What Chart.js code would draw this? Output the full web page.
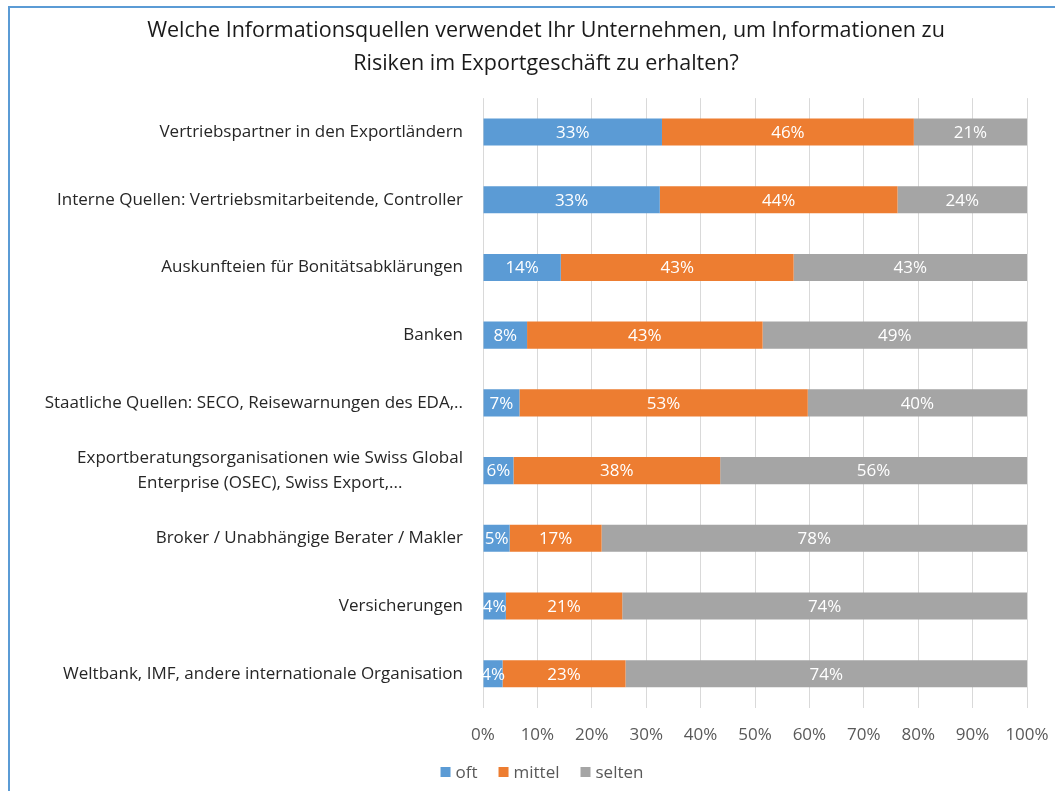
<!DOCTYPE html>
<html>
<head>
<meta charset="utf-8">
<script src="https://cdn.jsdelivr.net/npm/chart.js@4/dist/chart.umd.min.js"></script>
<style>
  html, body { margin: 0; padding: 0; background: #fff; overflow: hidden; width: 1055px; height: 791px; }
  #frame { position: absolute; left: 8px; top: 6px; width: 2000px; height: 2000px; border-left: 2px solid #5b9bd5; border-top: 2px solid #5b9bd5; }
  #wrap { position: absolute; left: 10px; top: 8px; width: 1074px; height: 785px; }
</style>
</head>
<body>
<div id="frame"></div>
<div id="wrap"><canvas id="c"></canvas></div>
<script>
const titleLines = ['Welche Informationsquellen verwendet Ihr Unternehmen, um Informationen zu', 'Risiken im Exportgeschäft zu erhalten?'];
const categories = [
  'Vertriebspartner in den Exportländern',
  'Interne Quellen: Vertriebsmitarbeitende, Controller',
  'Auskunfteien für Bonitätsabklärungen',
  'Banken',
  'Staatliche Quellen: SECO, Reisewarnungen des EDA,..',
  ['Exportberatungsorganisationen wie Swiss Global', 'Enterprise (OSEC), Swiss Export,...'],
  'Broker / Unabhängige Berater / Makler',
  'Versicherungen',
  'Weltbank, IMF, andere internationale Organisation'
];
const seriesNames = ['oft', 'mittel', 'selten'];
const oft =    [32.9, 32.5, 14.3,  8.1,  6.7,  5.6,  4.9,  4.2,  3.6];
const mittel = [46.3, 43.7, 42.8, 43.3, 53.0, 38.0, 16.9, 21.4, 22.6];
const selten = [20.8, 23.8, 42.9, 48.6, 40.3, 56.4, 78.2, 74.4, 73.8];
const xTickLabels = ['0%', '10%', '20%', '30%', '40%', '50%', '60%', '70%', '80%', '90%', '100%'];

const FONT = '"Open Sans", Lato, sans-serif';
const colors = ['#5b9bd5', '#ed7d31', '#a5a5a5'];

const valueLabels = {
  id: 'valueLabels',
  afterDatasetsDraw(chart) {
    const ctx = chart.ctx, area = chart.chartArea;
    ctx.save();
    ctx.beginPath();
    ctx.rect(area.left, area.top, area.right - area.left, area.bottom - area.top);
    ctx.clip();
    ctx.font = '17px ' + FONT;
    ctx.fillStyle = '#ffffff';
    ctx.textAlign = 'center';
    ctx.textBaseline = 'middle';
    chart.data.datasets.forEach((ds, di) => {
      const meta = chart.getDatasetMeta(di);
      meta.data.forEach((el, i) => {
        const v = ds.data[i];
        const cx = (el.x + el.base) / 2;
        ctx.fillText(Math.round(v) + '%', cx, el.y + 1);
      });
    });
    ctx.restore();
  }
};

const catLabels = {
  id: 'catLabels',
  afterDraw(chart) {
    const ctx = chart.ctx;
    const y = chart.scales.y;
    const right = chart.chartArea.left - 20;
    ctx.save();
    ctx.font = '17px ' + FONT;
    ctx.fillStyle = '#262626';
    ctx.textBaseline = 'middle';
    ctx.textAlign = 'center';
    const lh = 25;
    categories.forEach((lab, i) => {
      const lines = Array.isArray(lab) ? lab : [lab];
      const yc = y.getPixelForTick(i);
      const maxW = Math.max(...lines.map(l => ctx.measureText(l).width));
      const cx = right - maxW / 2;
      lines.forEach((l, k) => {
        ctx.fillText(l, cx, yc + (k - (lines.length - 1) / 2) * lh);
      });
    });
    ctx.restore();
  }
};

const bottomLegend = {
  id: 'bottomLegend',
  afterDraw(chart) {
    const ctx = chart.ctx;
    ctx.save();
    ctx.font = '17px ' + FONT;
    ctx.textBaseline = 'middle';
    ctx.textAlign = 'left';
    const box = 10, gapText = 5, gapItem = 21;
    const items = chart.data.datasets.map(ds => ({ text: ds.label, color: ds.backgroundColor, w: ctx.measureText(ds.label).width }));
    const total = items.reduce((s, it) => s + box + gapText + it.w, 0) + gapItem * (items.length - 1);
    let x = chart.width / 2 - 5 - total / 2;
    const yc = 764;
    items.forEach(it => {
      ctx.fillStyle = it.color;
      ctx.fillRect(x, yc - 5, box, box);
      ctx.fillStyle = '#595959';
      ctx.fillText(it.text, x + box + gapText, yc + 1);
      x += box + gapText + it.w + gapItem;
    });
    ctx.restore();
  }
};

new Chart(document.getElementById('c'), {
  type: 'bar',
  data: {
    labels: categories,
    datasets: [
      { label: seriesNames[0], data: oft, backgroundColor: colors[0] },
      { label: seriesNames[1], data: mittel, backgroundColor: colors[1] },
      { label: seriesNames[2], data: selten, backgroundColor: colors[2] }
    ]
  },
  options: {
    indexAxis: 'y',
    responsive: true,
    maintainAspectRatio: false,
    animation: false,
    datasets: { bar: { barPercentage: 0.4, categoryPercentage: 1.0, borderWidth: 0 } },
    layout: { padding: { left: 55, right: 57, top: 0, bottom: 31 } },
    scales: {
      x: {
        stacked: true,
        min: 0, max: 100,
        border: { display: false },
        grid: { color: '#d9d9d9', drawTicks: false, lineWidth: 1 },
        ticks: {
          stepSize: 10,
          padding: 17,
          color: '#595959',
          font: { family: FONT, size: 17 },
          callback: (v, i) => xTickLabels[i]
        }
      },
      y: {
        stacked: true,
        border: { display: false },
        grid: { display: false, drawTicks: false },
        ticks: { display: false },
        afterFit(scale) { scale.width = 418; }
      }
    },
    plugins: {
      title: {
        display: true,
        text: titleLines,
        color: '#1a1a1a',
        font: { family: FONT, size: 21.5, weight: 'normal', lineHeight: 1.55 },
        padding: { top: 6, bottom: 17.5 }
      },
      legend: { display: false },
      tooltip: { enabled: false }
    }
  },
  plugins: [valueLabels, catLabels, bottomLegend]
});
</script>
</body>
</html>
